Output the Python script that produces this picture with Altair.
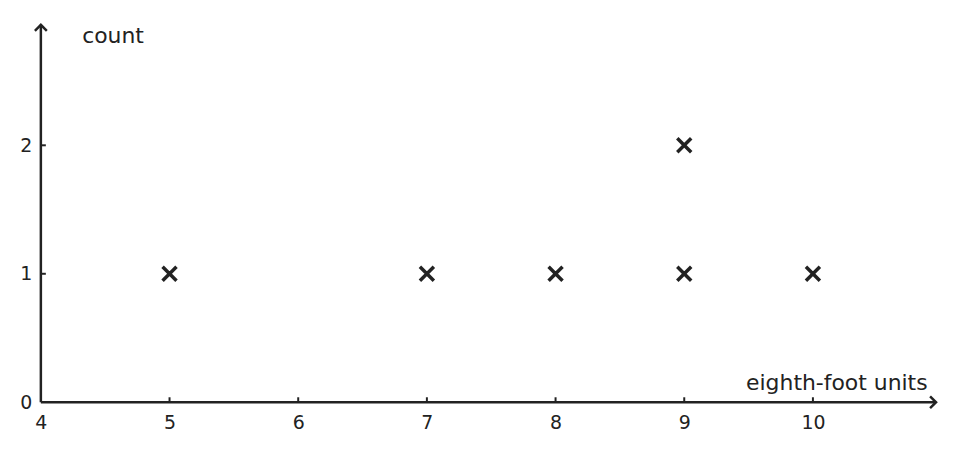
import altair as alt
import pandas as pd

# data
x_values = [5, 7, 8, 9, 9, 10]
y_values = [1, 1, 1, 1, 2, 1]
x_ticks = [4, 5, 6, 7, 8, 9, 10]
y_ticks = [0, 1, 2]
x_min, x_max = 4, 10.957
y_min, y_max = 0, 2.9375
x_title = "eighth-foot units"
y_title = "count"

INK = "#222222"
FONT = "DejaVu Sans"

pts = pd.DataFrame({"x": x_values, "y": y_values})
one = pd.DataFrame({"a": [0]})
xt = pd.DataFrame({"x": [v for v in x_ticks if v != x_min]})
yt = pd.DataFrame({"y": [v for v in y_ticks if v != y_min]})

xscale = alt.Scale(domain=[x_min, x_max], nice=False, zero=False)
yscale = alt.Scale(domain=[y_min, y_max], nice=False, zero=False)

xaxis = alt.Axis(values=x_ticks, domain=False, ticks=False, tickSize=0, grid=False,
                 labelPadding=11, labelFontSize=19, labelColor=INK, labelFont=FONT,
                 labelFlush=False, labelOverlap=False,
                 title=x_title, titleAngle=0, titleAlign="right", titleBaseline="alphabetic",
                 titleX=890, titleY=-13, titleFontSize=22, titleFontWeight="normal",
                 titleColor=INK, titleFont=FONT, format="d")
yaxis = alt.Axis(values=y_ticks, domain=False, ticks=False, tickSize=0, grid=False,
                 labelPadding=9, labelFontSize=19, labelColor=INK, labelFont=FONT,
                 labelFlush=False, labelOverlap=False,
                 title=y_title, titleAngle=0, titleAlign="left", titleBaseline="alphabetic",
                 titleX=41, titleY=18, titleFontSize=22, titleFontWeight="normal",
                 titleColor=INK, titleFont=FONT, format="d")

points = alt.Chart(pts).mark_point(
    shape="M-1,-1L1,1M-1,1L1,-1", filled=False, size=196, strokeWidth=3.5,
    color=INK, opacity=1
).encode(
    x=alt.X("x:Q", scale=xscale, axis=xaxis),
    y=alt.Y("y:Q", scale=yscale, axis=yaxis),
)

xline = alt.Chart(one).mark_rule(color=INK, strokeWidth=2.5).encode(
    x=alt.datum(x_min), x2=alt.datum(x_max), y=alt.datum(y_min)
)
yline = alt.Chart(one).mark_rule(color=INK, strokeWidth=2.5).encode(
    y=alt.datum(y_min), y2=alt.datum(y_max), x=alt.datum(x_min)
)

xarrow = alt.Chart(one).mark_point(
    shape="M-1,-1L0,0L-1,1", filled=False, size=144, strokeWidth=2.5,
    color=INK, opacity=1, strokeJoin="miter"
).encode(x=alt.datum(x_max), y=alt.datum(y_min))
yarrow = alt.Chart(one).mark_point(
    shape="M-1,1L0,0L1,1", filled=False, size=144, strokeWidth=2.5,
    color=INK, opacity=1, strokeJoin="miter"
).encode(x=alt.datum(x_min), y=alt.datum(y_max))

xticks = alt.Chart(xt).mark_point(
    shape="M0,0L0,-1", filled=False, size=100, strokeWidth=2, color=INK, opacity=1
).encode(x="x:Q", y=alt.datum(y_min))
yticks = alt.Chart(yt).mark_point(
    shape="M0,0L1,0", filled=False, size=100, strokeWidth=2, color=INK, opacity=1
).encode(y="y:Q", x=alt.datum(x_min))

chart = alt.layer(xline, yline, xticks, yticks, xarrow, yarrow, points).properties(
    width=899, height=379,
    background="white",
    autosize=alt.AutoSizeParams(type="none"),
    padding={"left": 33, "top": 16, "right": 15, "bottom": 40},
).configure_view(strokeWidth=0, stroke=None)

chart.save("out.html", embed_options={"renderer": "svg", "actions": False})
